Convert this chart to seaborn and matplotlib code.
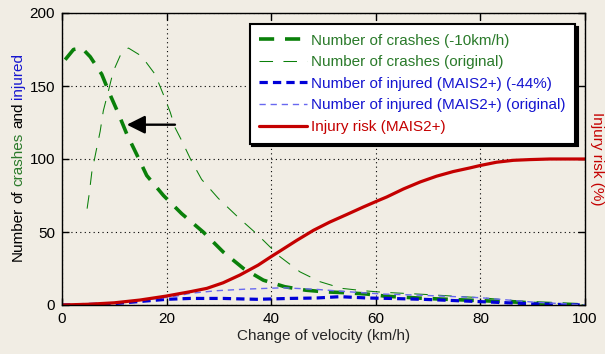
import matplotlib
matplotlib.use("Agg")
import matplotlib.pyplot as plt
import matplotlib.transforms as mtransforms
import seaborn as sns

# ---------------- data ----------------
x_crash_shift = [0.6, 2.2, 3.8, 5.4, 7.6, 9.2, 10.8, 12.4, 14.3, 16.2, 19.4, 22.9, 27, 30.8,
                 34.7, 38.5, 42.6, 46.5, 50.3, 54.4, 58.3, 62, 66, 69.5, 80, 90, 100]
y_crash_shift = [168, 175, 176, 170, 158, 144, 131, 117, 103, 88.7, 75, 62.5, 50, 36.4,
                 25, 17, 12.5, 10.2, 9, 8.4, 7.5, 6, 5.2, 4.5, 3, 1.5, 0]

x_crash_orig = [4.8, 5.2, 5.7, 7.3, 7.9, 8.9, 9.8, 11.4, 12.7, 15.2, 17.8, 19.4, 20.7, 21.6,
                22.9, 24.7, 26.7, 29.9, 34, 37.3, 41.7, 45.5, 49.3, 53.5, 57.6, 61.4, 65.3,
                69.1, 80, 90, 100]
y_crash_orig = [66, 76, 91, 119, 133, 147, 160, 173, 176, 170.5, 158, 144, 132, 121.6,
                112.5, 99, 86, 73, 59, 48.5, 33, 22.7, 16, 11.4, 9.8, 8.7, 8, 7.3, 5, 2, 0]

x_inj_cut = [0, 9.2, 15.9, 20, 24.5, 30.8, 37.2, 43.6, 48.7, 53.2, 58.3, 62.7, 69, 80, 90, 100]
y_inj_cut = [0, 0.7, 2.7, 3.9, 4.5, 4.5, 3.9, 4.5, 4.8, 5.7, 4.8, 4.5, 3.9, 2.3, 0.8, 0]

x_inj_orig = [0, 6, 12.4, 16.8, 21.3, 24.5, 29.6, 35.3, 42.3, 48.7, 55, 61.4, 67.8, 80, 90, 100]
y_inj_orig = [0, 0.5, 2.5, 3.9, 5.7, 8, 9.8, 10.9, 11.8, 10.7, 9, 7.5, 6.8, 5, 2, 0]

x_risk = [0, 5, 10, 14.9, 19.9, 24.5, 27.7, 30.8, 34, 37.5, 40.1, 41.7, 44.9, 48.1, 51.2,
          54.4, 57.6, 60.5, 62.1, 65.3, 68.5, 71.6, 74.8, 78, 79.9, 83.1, 86.3, 89.5,
          93.3, 100]
y_risk = [0, 0.5, 1.5, 3.4, 6.1, 9.1, 11.4, 15.2, 20.5, 27.3, 33.4, 37, 44.3, 51.2, 56.8,
          61.9, 67.1, 71.6, 74.0, 79.5, 84.3, 88.2, 91.4, 93.9, 95.5, 97.8, 99.1, 99.6,
          100, 100]

labels = ["Number of crashes (-10km/h)", "Number of crashes (original)",
          "Number of injured (MAIS2+) (-44%)", "Number of injured (MAIS2+) (original)",
          "Injury risk (MAIS2+)"]
x_ticks = [0, 20, 40, 60, 80, 100]
y_ticks = [0, 50, 100, 150, 200]
arrow_from = (21.6, 123.5)
arrow_to = (12.4, 123.5)

# ---------------- style ----------------
BG = "#F1EDE4"
GREEN = "#0A800A"
GREEN_TXT = "#2A7A2A"
BLUE = "#0000D8"
BLUE_LIGHT = "#6868F0"
BLUE_TXT = "#1515D0"
RED = "#C40000"
FS = 11

sns.set_style("ticks")
plt.rcParams["font.family"] = ["Liberation Sans", "DejaVu Sans"]
plt.rcParams["font.size"] = FS

fig = plt.figure(figsize=(6.05, 3.54), dpi=100, facecolor=BG)
ax = fig.add_axes([62 / 605, 1 - 305 / 354, 523 / 605, 292 / 354])
ax.set_facecolor(BG)

sns.lineplot(x=x_crash_shift, y=y_crash_shift, ax=ax, color=GREEN, lw=2.6,
             linestyle=(0, (4.2, 3.0)), label=labels[0], sort=False)
sns.lineplot(x=x_crash_orig, y=y_crash_orig, ax=ax, color=GREEN, lw=0.75,
             linestyle=(0, (13, 10)), label=labels[1], sort=False)
sns.lineplot(x=x_inj_cut, y=y_inj_cut, ax=ax, color=BLUE, lw=2.3,
             linestyle=(0, (2.6, 1.6)), label=labels[2], sort=False)
sns.lineplot(x=x_inj_orig, y=y_inj_orig, ax=ax, color=BLUE_LIGHT, lw=1.0,
             linestyle=(0, (4.5, 3.5)), label=labels[3], sort=False)
sns.lineplot(x=x_risk, y=y_risk, ax=ax, color=RED, lw=2.3, label=labels[4], sort=False)

ax.set_xlim(0, 100)
ax.set_ylim(0, 200)
ax.set_xticks(x_ticks)
ax.set_yticks(y_ticks)
ax.tick_params(direction="in", length=5, width=1, top=True, right=True,
               labelsize=FS, colors="black", pad=5)
for s in ax.spines.values():
    s.set_visible(True)
    s.set_color("black")
    s.set_linewidth(1.0)
ax.grid(True, color="black", linestyle=(0, (1, 3)), linewidth=0.8)
ax.set_axisbelow(True)

ax.annotate("", xy=arrow_to, xytext=arrow_from,
            arrowprops=dict(arrowstyle="-|>,head_length=1.0,head_width=0.5",
                            color="black", lw=1.7, shrinkA=0, shrinkB=0))

ax.set_xlabel("Change of velocity (km/h)", fontsize=FS, labelpad=2)
ax.set_ylabel("")

leg = ax.legend(loc="upper right", bbox_to_anchor=(0.981, 0.962), borderaxespad=0,
                frameon=True, fancybox=False, framealpha=1, edgecolor="black",
                handlelength=3.1, handletextpad=0.3, labelspacing=0.5,
                borderpad=0.62, fontsize=FS,
                shadow={"color": "black", "alpha": 1.0})
leg.get_frame().set_linewidth(1.5)
leg.get_frame().set_facecolor("white")
for t, c in zip(leg.get_texts(), [GREEN_TXT, GREEN_TXT, BLUE_TXT, BLUE_TXT, RED]):
    t.set_color(c)

# multi-colored vertical y label
fig.canvas.draw()
renderer = fig.canvas.get_renderer()
pieces = [("Number", "black"), ("of", "black"), ("crashes", GREEN_TXT),
          ("and", "black"), ("injured", BLUE_TXT)]
ident = mtransforms.IdentityTransform()
txts = []
for s, c in pieces:
    t = fig.text(0, 0, s, color=c, rotation=90, ha="center", va="bottom",
                 fontsize=FS, transform=ident)
    txts.append(t)
probe1 = fig.text(0, 0, "a a", fontsize=FS, transform=ident)
probe2 = fig.text(0, 0, "aa", fontsize=FS, transform=ident)
space = probe1.get_window_extent(renderer).width - probe2.get_window_extent(renderer).width
probe1.remove(); probe2.remove()
heights = [t.get_window_extent(renderer).height for t in txts]
total = sum(heights) + space * (len(txts) - 1)
ax_center_y = (354 - 157)
y = ax_center_y - total / 2
for t, h in zip(txts, heights):
    t.set_position((18, y))
    y += h + space

fig.text(597 / 605, 1 - 159 / 354, "Injury risk (%)", color=RED, rotation=270,
         ha="center", va="center", fontsize=FS)

fig.savefig("out.png", dpi=100, facecolor=BG)
